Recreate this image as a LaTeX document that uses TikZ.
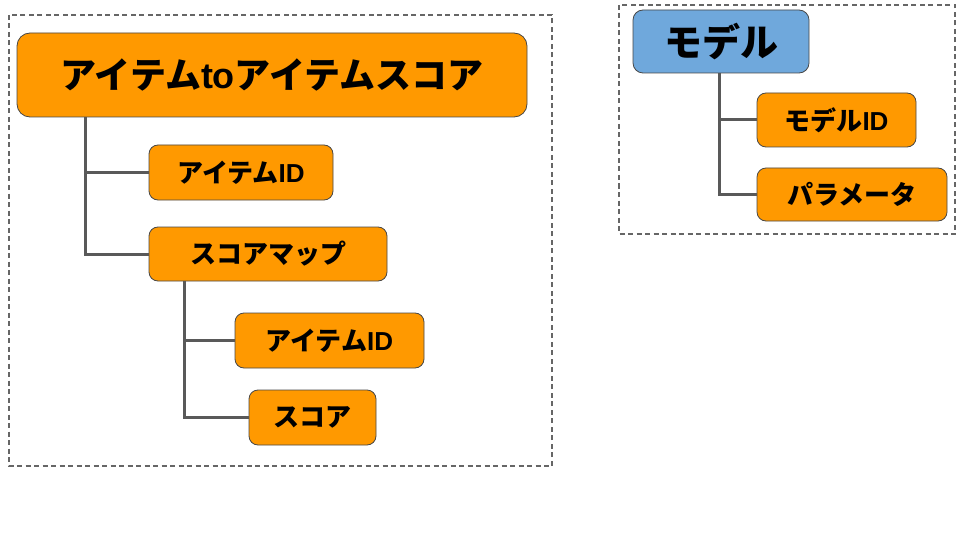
\documentclass[tikz,border=0pt]{standalone}
\usepackage{fontspec}
\newfontfamily\jp{Noto Sans CJK JP}
\newfontfamily\lat{Liberation Sans}
\definecolor{boxorange}{HTML}{FF9900}
\definecolor{boxblue}{HTML}{6FA8DC}
\definecolor{edgegray}{HTML}{595959}
\definecolor{framegray}{HTML}{666666}
\begin{document}
\begin{tikzpicture}[x=1pt,y=-1pt,
  box/.style={draw=edgegray!80!black, line width=0.8pt, rounded corners=9pt, fill=boxorange,
    font=\jp\bfseries\fontsize{26}{30}\selectfont, text=black, inner sep=0pt},
  bigbox/.style={box, rounded corners=13pt, font=\jp\bfseries\fontsize{36}{40}\selectfont},
  link/.style={draw=edgegray, line width=3pt},
  frame/.style={draw=framegray, line width=1.3pt, dash pattern=on 5pt off 3.5pt}]
\useasboundingbox (0,0) rectangle (960,540);
% frames
\draw[frame] (9,15) rectangle (552,466);
\draw[frame] (619,5) rectangle (955,234);
% left tree
\node[bigbox, minimum width=510pt, minimum height=84pt] (title) at (272,75) {アイテム{\lat to}アイテムスコア};
\node[box, minimum width=184pt, minimum height=55pt] (id1) at (241,172.5) {アイテム{\lat ID}};
\node[box, minimum width=238pt, minimum height=54pt] (map) at (268,254) {スコアマップ};
\node[box, minimum width=189pt, minimum height=55pt] (id2) at (329.5,340.5) {アイテム{\lat ID}};
\node[box, minimum width=127pt, minimum height=55pt] (score) at (312.5,417.5) {スコア};
% right tree
\node[box, fill=boxblue, rounded corners=10pt, minimum width=176pt, minimum height=63pt,
  font=\jp\bfseries\fontsize{38}{42}\selectfont] (model) at (721,41.5) {モデル};
\node[box, minimum width=159pt, minimum height=54pt] (mid) at (836.5,120) {モデル{\lat ID}};
\node[box, minimum width=190pt, minimum height=53pt] (param) at (852,194.5) {パラメータ};
% connectors
\coordinate (t0) at ([xshift=69pt]title.south west);
\coordinate (m0) at ([xshift=36pt]map.south west);
\coordinate (d0) at ([xshift=87pt]model.south west);
\draw[link] (t0) |- (id1.west);
\draw[link] (t0) |- (map.west);
\draw[link] (m0) |- (id2.west);
\draw[link] (m0) |- (score.west);
\draw[link] (d0) |- (mid.west);
\draw[link] (d0) |- (param.west);
\end{tikzpicture}
\end{document}
